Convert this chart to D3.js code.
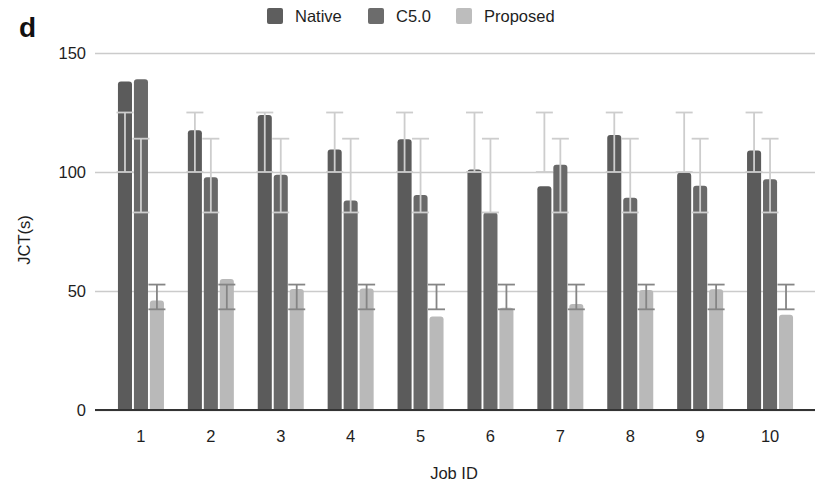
<!DOCTYPE html>
<html>
<head>
<meta charset="utf-8">
<script src="https://cdn.jsdelivr.net/npm/d3@7/dist/d3.min.js"></script>
<style>
  html, body { margin: 0; padding: 0; background: #fff; }
  svg { display: block; font-family: "Liberation Sans", Arial, sans-serif; }
</style>
</head>
<body>
<svg id="chart" width="817" height="487"></svg>
<script>
// Job completion time per job, three schedulers
const jobs = ["1", "2", "3", "4", "5", "6", "7", "8", "9", "10"];
const seriesNames = ["Native", "C5.0", "Proposed"];
const nativeJCT   = [138, 117.5, 124, 109.5, 113.8, 101, 94, 115.5, 99.7, 109];
const c50JCT      = [139, 97.8, 98.8, 88, 90.3, 83, 103, 89.2, 94.2, 97];
const proposedJCT = [46, 55, 50.8, 51, 39.3, 43, 44.5, 50.4, 50.7, 40];
// error bar extents (low, high) per job
const nativeErrLow    = [100, 100, 100, 100, 100, 100, 100, 100, 100, 100];
const nativeErrHigh   = [125, 125, 125, 125, 125, 125, 125, 125, 125, 125];
const c50ErrLow       = [83, 83, 83, 83, 83, 83, 83, 83, 83, 83];
const c50ErrHigh      = [114, 114, 114, 114, 114, 114, 114, 114, 114, 114];
const proposedErrLow  = [42.3, 42.3, 42.3, 42.3, 42.3, 42.3, 42.3, 42.3, 42.3, 42.3];
const proposedErrHigh = [52.7, 52.7, 52.7, 52.7, 52.7, 52.7, 52.7, 52.7, 52.7, 52.7];
const yTicks = [0, 50, 100, 150];

const seriesValues = [nativeJCT, c50JCT, proposedJCT];
const seriesLow = [nativeErrLow, c50ErrLow, proposedErrLow];
const seriesHigh = [nativeErrHigh, c50ErrHigh, proposedErrHigh];
const barColors = ["#5b5b5b", "#696969", "#b9b9b9"];
const legendColors = ["#5e5e5e", "#6c6c6c", "#bdbdbd"];
const errColors = ["#cdcdcd", "#cdcdcd", "#858585"];

const rows = [];
jobs.forEach((job, j) => {
  seriesNames.forEach((s, i) => {
    rows.push({ job, series: s, si: i, value: seriesValues[i][j], lo: seriesLow[i][j], hi: seriesHigh[i][j] });
  });
});

const svg = d3.select("#chart");
const plot = { left: 95, right: 815, top: 53, bottom: 410 };
const fontSize = 16.5;
const textColor = "#1e1e1e";

const y = d3.scaleLinear().domain([0, 150]).range([plot.bottom, plot.top]);
const x0 = d3.scaleBand().domain(jobs).range([106, 805]).paddingInner(0).paddingOuter(0);
const x1 = d3.scaleBand().domain(seriesNames).range([-23, 23]).paddingInner(0.12);

// horizontal gridlines with tick labels
const yAxis = d3.axisLeft(y).tickValues(yTicks).tickSize(-(plot.right - plot.left)).tickPadding(9);
const gy = svg.append("g").attr("transform", `translate(${plot.left},0)`).call(yAxis);
gy.select(".domain").remove();
gy.selectAll(".tick line").attr("stroke", "#cbcbcb").attr("stroke-width", 1.6);
gy.selectAll(".tick text").attr("fill", textColor).attr("font-size", fontSize);

// bars with rounded tops
function roundedTop(x, yTop, w, h, r) {
  r = Math.min(r, h, w / 2);
  return `M${x},${yTop + h}V${yTop + r}Q${x},${yTop} ${x + r},${yTop}H${x + w - r}Q${x + w},${yTop} ${x + w},${yTop + r}V${yTop + h}Z`;
}

const groups = svg.append("g").selectAll("g")
  .data(rows).join("g")
  .attr("transform", d => `translate(${x0(d.job) + x0.bandwidth() / 2},0)`);

groups.append("path")
  .attr("d", d => roundedTop(x1(d.series), y(d.value), x1.bandwidth(), y(0) - y(d.value), 3))
  .attr("fill", d => barColors[d.si]);

// error bars
const capW = 17;
groups.each(function (d) {
  const g = d3.select(this);
  const cx = x1(d.series) + x1.bandwidth() / 2;
  const c = errColors[d.si];
  g.append("line").attr("x1", cx).attr("x2", cx).attr("y1", y(d.lo)).attr("y2", y(d.hi))
    .attr("stroke", c).attr("stroke-width", 1.8);
  [d.lo, d.hi].forEach(v => {
    g.append("line").attr("x1", cx - capW / 2).attr("x2", cx + capW / 2).attr("y1", y(v)).attr("y2", y(v))
      .attr("stroke", c).attr("stroke-width", 1.8);
  });
});

// baseline and category labels
const xAxis = d3.axisBottom(x0).tickSize(0).tickPadding(20);
const gx = svg.append("g").attr("transform", `translate(0,${plot.bottom})`).call(xAxis);
gx.select(".domain").remove();
gx.selectAll(".tick text").attr("fill", textColor).attr("font-size", fontSize);
svg.append("line").attr("x1", plot.left).attr("x2", plot.right).attr("y1", plot.bottom).attr("y2", plot.bottom)
  .attr("stroke", "#333").attr("stroke-width", 2);

// axis titles
svg.append("text").attr("x", 454).attr("y", 479).attr("text-anchor", "middle")
  .attr("font-size", fontSize).attr("fill", textColor).text("Job ID");
svg.append("text").attr("transform", "translate(30,240) rotate(-90)").attr("text-anchor", "middle")
  .attr("font-size", fontSize).attr("fill", textColor).text("JCT(s)");

// panel letter
svg.append("text").attr("x", 19).attr("y", 37).attr("font-size", 28).attr("font-weight", "bold")
  .attr("fill", "#111").text("d");

// legend
const legendX = [267, 368, 456];
const legend = svg.append("g").selectAll("g").data(seriesNames).join("g")
  .attr("transform", (d, i) => `translate(${legendX[i]},8)`);
legend.append("rect").attr("width", 16).attr("height", 16).attr("rx", 2)
  .attr("fill", (d, i) => legendColors[i]);
legend.append("text").attr("x", 28).attr("y", 14).attr("font-size", fontSize).attr("fill", textColor).text(d => d);
</script>
</body>
</html>
